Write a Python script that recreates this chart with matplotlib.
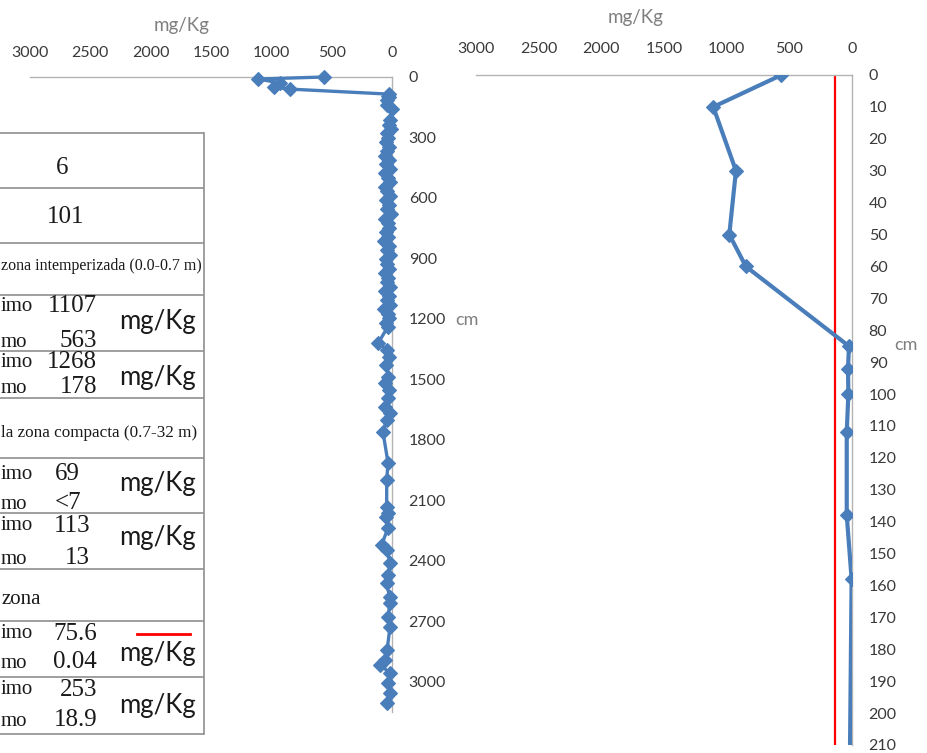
import matplotlib
matplotlib.use("Agg")
import matplotlib.pyplot as plt

# ---------------------------------------------------------------- data
# Concentration profile (mg/Kg) against depth (cm)
depth_cm = [
    0, 10, 30, 50, 60, 85, 92, 100, 112, 138, 158,
    215, 236, 258, 280, 302, 323, 345, 367, 390, 412, 433, 455, 478, 500,
    522, 545, 567, 590, 612, 635, 657, 680, 702, 725, 747, 770, 792, 815,
    838, 860, 882, 905, 927, 950, 972, 995, 1017, 1040, 1062, 1085, 1107,
    1130, 1152, 1175, 1197, 1220,
    1240, 1319, 1354, 1388, 1428, 1487, 1517, 1552, 1592, 1636, 1666, 1701,
    1760, 1914, 1999, 2133, 2162, 2182, 2237, 2321, 2346, 2410, 2470, 2509,
    2579, 2609, 2678, 2728, 2842, 2891, 2916, 2956, 3005, 3055, 3104,
]
conc_mgkg = [
    563, 1107, 926, 979, 847, 24, 32, 29, 42, 42, 3,
    17, 28, 12, 45, 30, 52, 22, 38, 60, 25, 48, 15, 55, 33,
    20, 62, 40, 18, 50, 28, 44, 12, 58, 35, 22, 47, 30, 65,
    26, 40, 15, 52, 38, 24, 60, 30, 45, 18, 55, 28, 42,
    20, 63, 35, 25, 50,
    36, 113, 40, 22, 48, 30, 55, 25, 33, 58, 17, 45,
    75, 33, 44, 44, 30, 52, 33, 86, 40, 17, 30, 45,
    20, 17, 33, 17, 40, 58, 100, 17, 33, 17, 44,
]
reference_level = 137  # vertical reference line, mg/Kg

x_ticks = [3000, 2500, 2000, 1500, 1000, 500, 0]
deep_ticks = list(range(0, 3001, 300))
shallow_ticks = list(range(0, 211, 10))

# summary table (visible part)
table_counts = ["6", "101"]
zone_titles = ["zona intemperizada (0.0-0.7 m)",
               "la zona compacta (0.7-32 m)",
               "zona"]
row_max = ["1107", "1268", "69", "113", "75.6", "253"]
row_min = ["563", "178", "<7", "13", "0.04", "18.9"]
unit = "mg/Kg"

# ---------------------------------------------------------------- styling
W, H = 928, 753
BLUE = "#4a7ebb"
AXIS_GRAY = "#b3b3b3"
TICK_COLOR = "#3a3a3a"
LABEL_GRAY = "#7f7f7f"
SANS = ["Lato", "DejaVu Sans"]
SERIF = ["Liberation Serif", "DejaVu Serif"]

fig = plt.figure(figsize=(W / 100, H / 100), dpi=100)
fig.patch.set_facecolor("white")


def px_axes(x0, y0, x1, y1, **kw):
    """Axes from a pixel box measured from the top-left corner."""
    return fig.add_axes([x0 / W, 1 - y1 / H, (x1 - x0) / W, (y1 - y0) / H], **kw)


def style_profile(ax, yticks, ylim, xpad):
    ax.set_xlim(3000, 0)
    ax.set_ylim(ylim, 0)
    ax.set_xticks(x_ticks)
    ax.set_yticks(yticks)
    ax.xaxis.tick_top()
    ax.yaxis.tick_right()
    ax.tick_params(axis="x", length=0, pad=xpad, labelsize=11.5, labelcolor=TICK_COLOR)
    ax.tick_params(axis="y", length=0, pad=12, labelsize=11.5, labelcolor=TICK_COLOR)
    for lab in ax.get_xticklabels() + ax.get_yticklabels():
        lab.set_family(SANS)
    for side in ("left", "bottom"):
        ax.spines[side].set_visible(False)
    for side in ("top", "right"):
        ax.spines[side].set_color(AXIS_GRAY)
        ax.spines[side].set_linewidth(1.0)
    ax.patch.set_alpha(0)


# ---------------------------------------------------------------- full profile
ax_deep = px_axes(30, 77, 392, 712)
style_profile(ax_deep, deep_ticks, 3150, xpad=12.5)
ax_deep.plot(conc_mgkg, depth_cm, color=BLUE, lw=2.4, marker="D", ms=7.2,
             mfc=BLUE, mec=BLUE, mew=0.8, clip_on=False, zorder=3)

# ---------------------------------------------------------------- top 2 m
ax_top = px_axes(476, 75, 852, 745)
style_profile(ax_top, shallow_ticks, 210, xpad=14)
ax_top.plot(conc_mgkg, depth_cm, color=BLUE, lw=3.0, marker="D", ms=7.2,
            mfc=BLUE, mec=BLUE, mew=0.8, zorder=3)
ax_top.axvline(reference_level, color="red", lw=1.6, zorder=2)


def ftext(x, y, s, **kw):
    fig.text(x / W, 1 - y / H, s, **kw)


ftext(182, 25, unit, ha="center", va="center", fontsize=13.5, color=LABEL_GRAY, family=SANS)
ftext(636, 17, unit, ha="center", va="center", fontsize=13.5, color=LABEL_GRAY, family=SANS)
ftext(455, 320, "cm", ha="left", va="center", fontsize=13, color=LABEL_GRAY, family=SANS)
ftext(894, 345, "cm", ha="left", va="center", fontsize=13, color=LABEL_GRAY, family=SANS)

# ---------------------------------------------------------------- table
ax_tab = fig.add_axes([0, 0, 1, 1], zorder=-1)
ax_tab.set_xlim(0, W)
ax_tab.set_ylim(H, 0)
ax_tab.axis("off")

TAB_LINE = "#8f8f8f"
row_edges = [133, 188, 243, 295, 351, 398, 458, 513, 569, 621, 677, 734]
for y in row_edges:
    ax_tab.plot([0, 204], [y, y], color=TAB_LINE, lw=1.2, solid_capstyle="butt")
ax_tab.plot([204, 204], [row_edges[0], row_edges[-1]], color=TAB_LINE, lw=1.2)

INK = "#1a1a1a"
NUM = dict(family=SERIF, fontsize=18, color=INK, va="center")
LBL = dict(family=SERIF, fontsize=15, color=INK, va="center", ha="left")
UNIT = dict(family=SANS, fontsize=18.5, color=INK, va="center", ha="center")

ax_tab.text(62, 168, table_counts[0], ha="center", **NUM)
ax_tab.text(66, 217, table_counts[1], ha="center", **NUM)
ax_tab.text(1, 266, zone_titles[0], ha="left", va="center", family=SERIF,
            fontsize=11.5, color=INK)
ax_tab.text(1, 433, zone_titles[1], ha="left", va="center", family=SERIF,
            fontsize=12.3, color=INK)
ax_tab.text(1, 599, zone_titles[2], ha="left", va="center", family=SERIF,
            fontsize=15, color=INK)

# (y of max line, y of min line, y of unit, x anchor of numbers, alignment)
value_rows = [
    (306, 341, 321, 97, "right"),
    (362, 387, 377, 97, "right"),
    (474, 503, 483, 55, "left"),
    (526, 558, 538, 90, "right"),
    (634, 662, 654, 97, "right"),
    (690, 720, 705, 97, "right"),
]
for i, (ymax, ymin, yu, xn, ha) in enumerate(value_rows):
    ax_tab.text(1, ymax, "imo", **LBL)
    ax_tab.text(1, ymin + 1, "mo", **LBL)
    ax_tab.text(xn, ymax, row_max[i], ha=ha, **NUM)
    ax_tab.text(xn, ymin, row_min[i], ha=ha, **NUM)
    ax_tab.text(158, yu, unit, **UNIT)

ax_tab.plot([137, 190], [634, 634], color="red", lw=2)

fig.savefig("out.png", dpi=100, facecolor="white")
